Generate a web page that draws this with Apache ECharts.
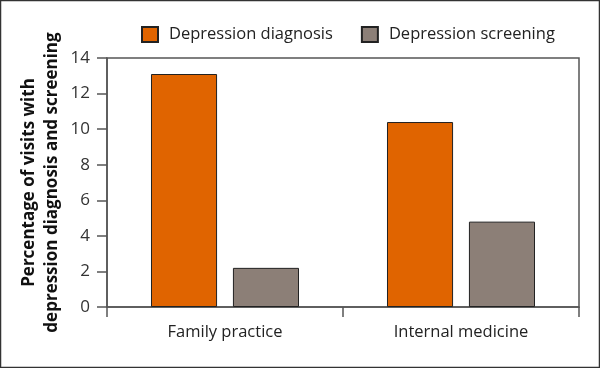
<!DOCTYPE html>
<html><head><meta charset="utf-8">
<script src="https://cdn.jsdelivr.net/npm/echarts@6/dist/echarts.min.js"></script>
<style>html,body{margin:0;padding:0;background:#fff}#c{width:600px;height:368px}</style>
</head><body><div id="c"></div>
<script>
const categories = ['Family practice', 'Internal medicine'];
const diagnosis = [13.1, 10.4];
const screening = [2.2, 4.8];
const seriesNames = ['Depression diagnosis', 'Depression screening'];
const yTitle = 'Percentage of visits with\ndepression diagnosis and screening';

const FONT = '"Open Sans", "Noto Sans", sans-serif';
const chart = echarts.init(document.getElementById('c'));
chart.setOption({
  animation: false,
  textStyle: { fontFamily: FONT },
  graphic: [{ type: 'rect', shape: { x: 0.5, y: 0.5, width: 599, height: 367 }, style: { fill: 'none', stroke: '#333', lineWidth: 1.5 }, silent: true }],
  legend: {
    left: 136, top: 21, itemWidth: 16, itemHeight: 15, itemGap: 28, icon: 'rect',
    textStyle: { fontSize: 16.5, color: '#222', fontFamily: FONT, padding: [0, 0, 0, 6] },
    data: seriesNames
  },
  grid: { left: 107, right: 21, top: 58, bottom: 61, show: true, borderColor: '#555', borderWidth: 1.5, backgroundColor: 'transparent' },
  xAxis: {
    type: 'category', data: categories,
    axisLine: { lineStyle: { color: '#555', width: 1.5 } },
    axisTick: { show: true, length: 10, lineStyle: { color: '#555', width: 1.5 } },
    axisLabel: { fontSize: 16.5, color: '#222', margin: 17 }
  },
  yAxis: {
    type: 'value', min: 0, max: 14, interval: 2,
    name: yTitle, nameLocation: 'middle', nameGap: 43, nameRotate: 90, nameMoveOverlap: false,
    nameTextStyle: { fontSize: 17, fontWeight: 'bold', color: '#111', lineHeight: 23, fontFamily: FONT },
    axisLine: { show: true, lineStyle: { color: '#555', width: 1.5 } },
    axisTick: { show: true, length: 10, lineStyle: { color: '#555', width: 1.5 } },
    axisLabel: { fontSize: 17, color: '#333', margin: 17 },
    splitLine: { show: false }
  },
  series: [
    { name: seriesNames[0], type: 'bar', data: diagnosis, barWidth: '28%', barGap: '24%',
      itemStyle: { color: '#E06400', borderColor: '#222', borderWidth: 1 } },
    { name: seriesNames[1], type: 'bar', data: screening, barWidth: '28%',
      itemStyle: { color: '#8C7F77', borderColor: '#222', borderWidth: 1 } }
  ]
});
</script></body></html>
